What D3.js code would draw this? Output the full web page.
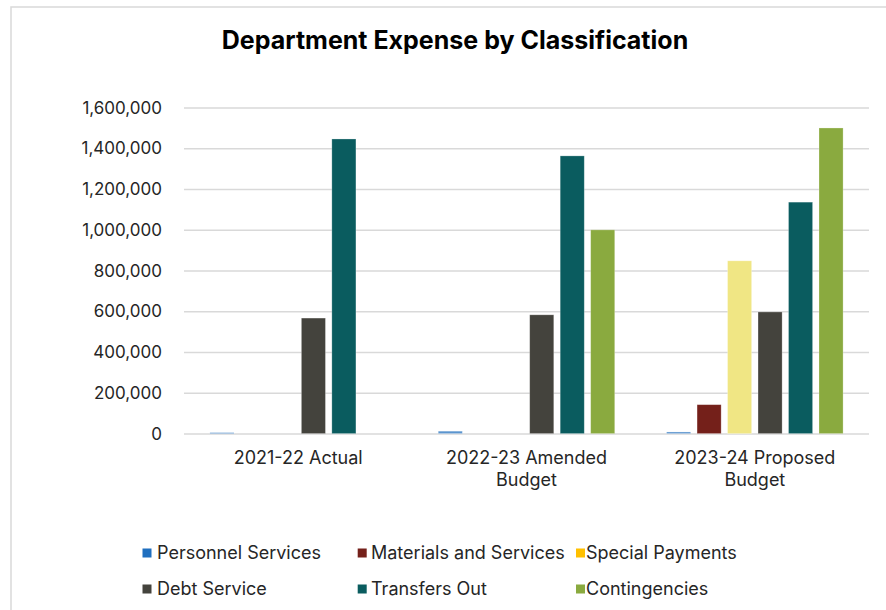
<!DOCTYPE html>
<html>
<head>
<meta charset="utf-8">
<script src="https://cdn.jsdelivr.net/npm/d3@7"></script>
<style>
  html, body { margin: 0; padding: 0; background: #ffffff; }
  svg { display: block; font-family: Inter, "Noto Sans", sans-serif; }
</style>
</head>
<body>
<svg id="chart" width="886" height="610"></svg>
<script>
// Fiscal periods shown along the x axis
const categories = ["2021-22 Actual", "2022-23 Amended Budget", "2023-24 Proposed Budget"];

// Expense classifications (one bar per classification in each period)
const seriesNames = ["Personnel Services", "Materials and Services", "Special Payments",
                     "Debt Service", "Transfers Out", "Contingencies"];

// Amounts per classification, in period order
const personnelServices    = [5000, 12000, 8000];
const materialsServices    = [0, 0, 142000];
const specialPayments      = [0, 0, 848000];
const debtService          = [567000, 583000, 597000];
const transfersOut         = [1446000, 1363000, 1136000];
const contingencies        = [0, 1000000, 1500000];

const yTicks = [0, 200000, 400000, 600000, 800000, 1000000, 1200000, 1400000, 1600000];

const seriesValues = [personnelServices, materialsServices, specialPayments,
                      debtService, transfersOut, contingencies];

const legendColors = ["#1f6fbf", "#74201a", "#ffc000", "#44433d", "#0a5c5f", "#8aaa3f"];
const barColors    = ["#5b95cf", "#74201a", "#f0e684", "#44433d", "#0a5c5f", "#8aaa3f"];

const svg = d3.select("#chart");

// Outer chart frame
svg.append("rect")
  .attr("x", 11).attr("y", 7)
  .attr("width", 900).attr("height", 700)
  .attr("fill", "#ffffff")
  .attr("stroke", "#d9d9d9").attr("stroke-width", 1.5);

// Title
svg.append("text")
  .attr("x", 455).attr("y", 49)
  .attr("text-anchor", "middle")
  .attr("font-size", 25).attr("font-weight", 700)
  .attr("fill", "#000000")
  .text("Department Expense by Classification");

const plot = { left: 184, right: 869, top: 107.6, bottom: 433.6 };

const y = d3.scaleLinear()
  .domain([0, 1600000])
  .range([plot.bottom, plot.top]);

const x0 = d3.scaleBand()
  .domain(categories)
  .range([plot.left, plot.right])
  .paddingInner(0.227).paddingOuter(0.1135);

const x1 = d3.scaleBand()
  .domain(seriesNames)
  .range([0, x0.bandwidth()])
  .paddingInner(0.21).paddingOuter(0);

// Y axis with horizontal gridlines
const yAxis = svg.append("g")
  .attr("transform", `translate(${plot.left},0)`)
  .call(d3.axisLeft(y)
    .tickValues(yTicks)
    .tickFormat(d3.format(","))
    .tickSize(-(plot.right - plot.left))
    .tickPadding(22));
yAxis.select(".domain").remove();
yAxis.selectAll(".tick line")
  .attr("stroke", "#d9d9d9").attr("stroke-width", 1.5);
yAxis.selectAll(".tick text")
  .attr("font-size", 17).attr("fill", "#262626")
  .attr("font-family", "Inter, 'Noto Sans', sans-serif");

// Bars
const groups = svg.append("g").selectAll("g")
  .data(categories)
  .join("g")
  .attr("transform", d => `translate(${x0(d)},0)`);

groups.selectAll("rect")
  .data((c, ci) => seriesNames.map((s, si) => ({ series: s, si, value: seriesValues[si][ci] })))
  .join("rect")
  .attr("x", d => x1(d.series))
  .attr("width", x1.bandwidth())
  .attr("y", d => y(d.value))
  .attr("height", d => y(0) - y(d.value))
  .attr("fill", d => barColors[d.si])
  .attr("stroke", "#ffffff").attr("stroke-opacity", 0.35).attr("stroke-width", 0.75);

// Category labels, wrapped to the band width
const xAxis = svg.append("g")
  .attr("transform", `translate(0,${plot.bottom})`)
  .call(d3.axisBottom(x0).tickSize(0).tickPadding(0));
xAxis.select(".domain").remove();
xAxis.selectAll(".tick text")
  .attr("font-size", 18).attr("fill", "#262626")
  .attr("font-family", "Inter, 'Noto Sans', sans-serif")
  .each(function(d) {
    const t = d3.select(this);
    const words = d.split(" ");
    const maxW = x0.step() - 40;
    t.text(null);
    let line = [];
    let lineNo = 0;
    let tspan = t.append("tspan").attr("x", 0).attr("y", 30);
    words.forEach(w => {
      line.push(w);
      tspan.text(line.join(" "));
      if (tspan.node().getComputedTextLength() > maxW && line.length > 1) {
        line.pop();
        tspan.text(line.join(" "));
        line = [w];
        lineNo++;
        tspan = t.append("tspan").attr("x", 0).attr("y", 30 + lineNo * 22).text(w);
      }
    });
    t.attr("dy", null);
    t.selectAll("tspan").attr("dy", null);
  });

// Legend
const swatchX = [142.5, 357.7, 576];
const labelX = [157, 371, 586];
const legendRows = [553, 589];
const legend = svg.append("g").selectAll("g")
  .data(seriesNames)
  .join("g")
  .attr("transform", (d, i) => `translate(0,${legendRows[Math.floor(i / 3)]})`);
legend.append("rect")
  .attr("x", (d, i) => swatchX[i % 3]).attr("y", -4.5)
  .attr("width", 9).attr("height", 9)
  .attr("fill", (d, i) => legendColors[i]);
legend.append("text")
  .attr("x", (d, i) => labelX[i % 3]).attr("y", 0)
  .attr("dy", "0.35em")
  .attr("font-size", 18).attr("fill", "#262626")
  .text(d => d);
</script>
</body>
</html>
